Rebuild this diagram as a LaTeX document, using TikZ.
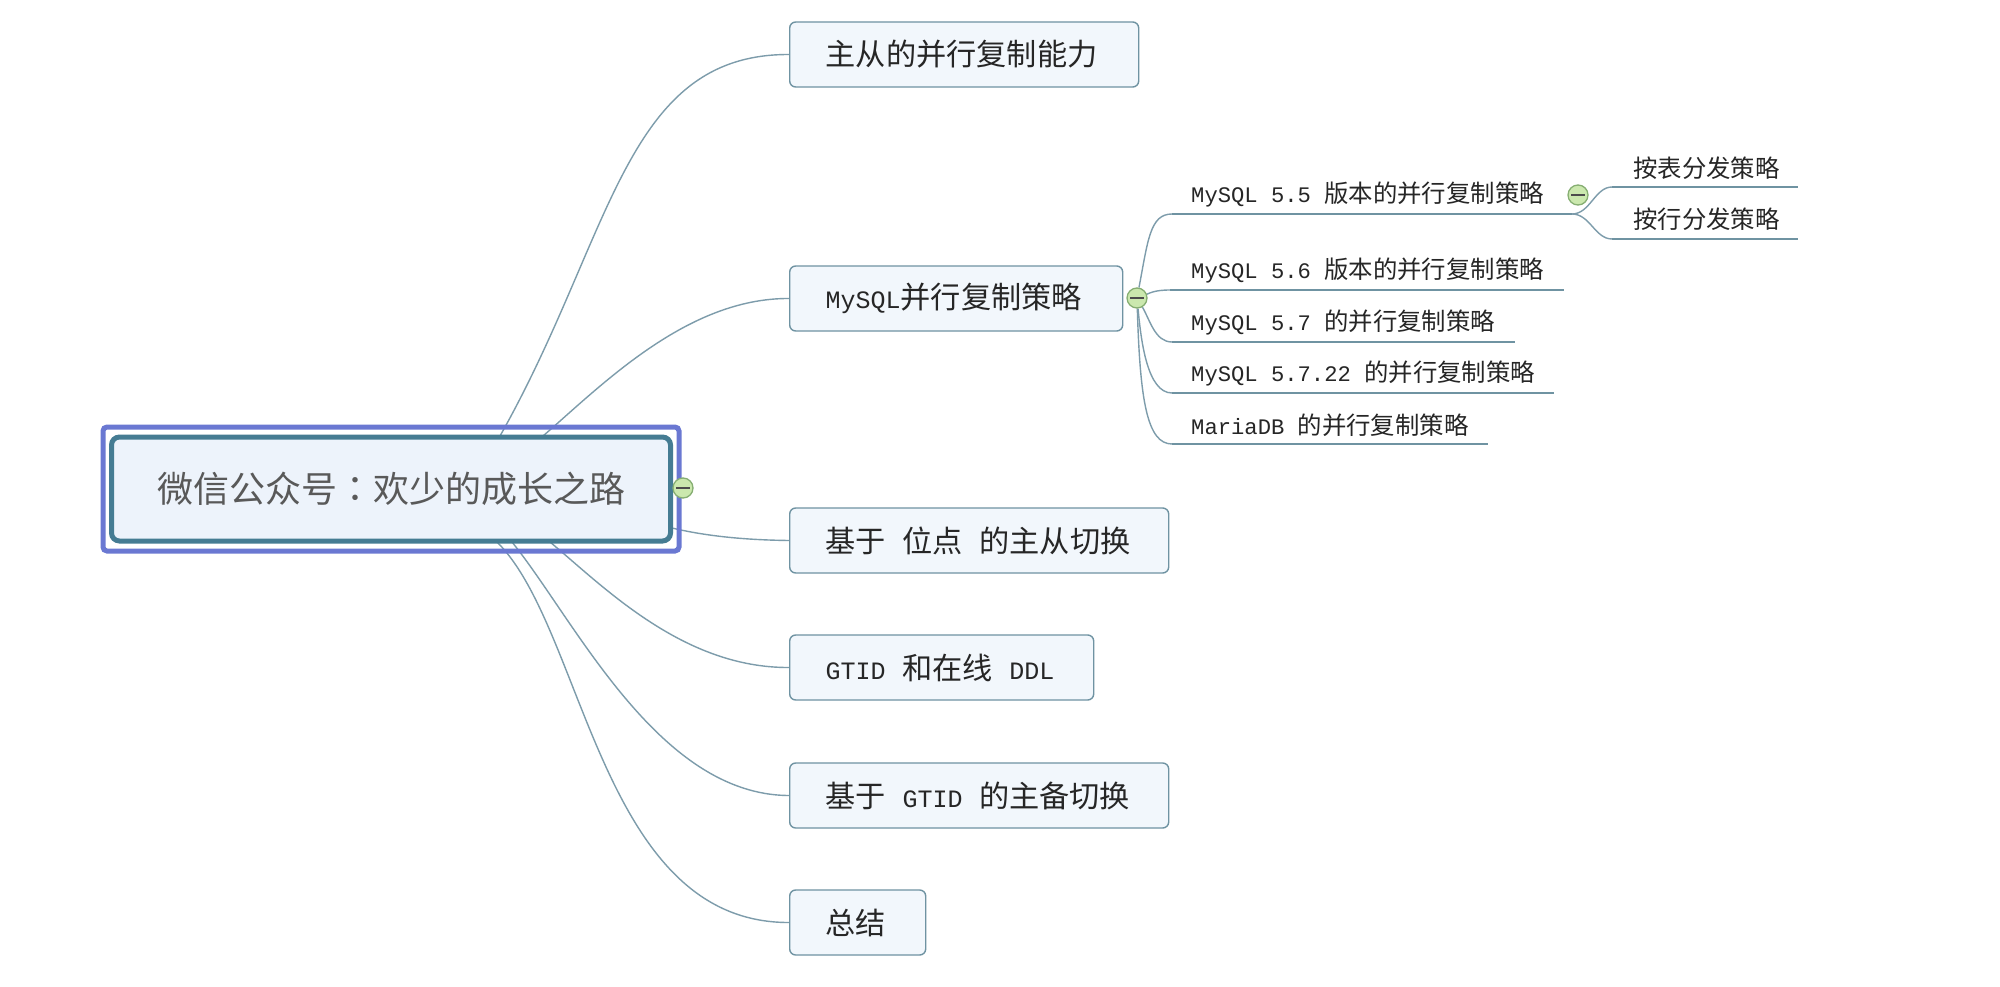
\documentclass[tikz,border=0pt]{standalone}
\usepackage{fontspec}
\setmainfont{Noto Sans CJK SC}
\newfontfamily\cjktc{Noto Sans CJK TC}
\newfontfamily\lat[Scale=0.828]{Liberation Mono}
\newfontfamily\latsub[Scale=0.909]{Liberation Mono}
\newcommand{\gapb}{\hspace{16.5pt}}
\usetikzlibrary{calc}
\pgfdeclarelayer{paper}
\pgfdeclarelayer{edges}
\pgfsetlayers{paper,edges,main}
\definecolor{linec}{HTML}{7D9CAB}
\definecolor{boxline}{HTML}{6F93A2}
\definecolor{boxfill}{HTML}{F2F7FC}
\definecolor{rootline}{HTML}{457C93}
\definecolor{frameline}{HTML}{6A78D2}
\definecolor{rootfill}{HTML}{EDF3FB}
\definecolor{togfill}{HTML}{CBE8AE}
\definecolor{togline}{HTML}{86AE72}
\definecolor{inktxt}{HTML}{262626}
\tikzset{
  x=1pt,y=-1pt,
  bigbox/.style={draw=boxline,line width=1.4pt,fill=boxfill,rounded corners=6pt,anchor=west,
    inner xsep=36pt,inner ysep=0pt,minimum height=65pt,align=left,text width=#1,text=inktxt,
    font=\fontsize{30.2}{34}\selectfont},
  subtxt/.style={anchor=west,inner sep=0pt,text=inktxt,font=\fontsize{24.4}{28}\selectfont},
  edgeline/.style={draw=linec,line width=1.4pt},
  under/.style={draw=boxline,line width=1.5pt},
  toggle/.style={circle,draw=togline,line width=1.3pt,fill=togfill,minimum size=20pt,inner sep=0pt},
  minus/.style={draw=black!70,line width=1.5pt}
}
\begin{document}
\begin{tikzpicture}
\begin{pgfonlayer}{paper}
\fill[white] (0,0) rectangle (2000,987);
\end{pgfonlayer}
\useasboundingbox (0,0) rectangle (2000,987);
% root
\node[draw=frameline,line width=5pt,rounded corners=4pt,minimum width=576pt,minimum height=124pt,inner sep=0pt] (frame) at (391,489) {};
\node[draw=rootline,line width=5pt,fill=rootfill,rounded corners=8pt,minimum width=559pt,minimum height=104pt,inner sep=0pt,text=black!65,font=\fontsize{36}{40}\selectfont] (root) at (391,489) {微信公众号{\cjktc ：}欢少的成长之路};
\node[toggle] (troot) at (683,488) {};
% first level
\node[bigbox=277pt] (a) at (789,54.5) {主从的并行复制能力};
\node[bigbox=261pt] (b) at (789,298.5) {{\lat MySQL}并行复制策略};
\node[bigbox=307pt] (c) at (789,540.5) {基于\gapb 位点\gapb 的主从切换};
\node[bigbox=232pt] (d) at (789,667.5) {{\lat GTID}\gapb 和在线\gapb{\lat DDL}};
\node[bigbox=307pt] (e) at (789,795.5) {基于\gapb{\lat GTID}\gapb 的主备切换};
\node[bigbox=64pt] (f) at (789,922.5) {总结};
\node[toggle] (tb) at (1137,298) {};
% second level
\node[subtxt] (s1) at (1191,195) {{\latsub MySQL 5.5 }版本的并行复制策略};
\node[subtxt] (s2) at (1191,271) {{\latsub MySQL 5.6 }版本的并行复制策略};
\node[subtxt] (s3) at (1191,323) {{\latsub MySQL 5.7 }的并行复制策略};
\node[subtxt] (s4) at (1191,374) {{\latsub MySQL 5.7.22 }的并行复制策略};
\node[subtxt] (s5) at (1191,425) {{\latsub MariaDB }的并行复制策略};
\node[toggle] (ts) at (1578,195) {};
\node[subtxt] (u1) at (1633,168) {按表分发策略};
\node[subtxt] (u2) at (1633,219) {按行分发策略};
\coordinate (s1a) at (1172,214); \coordinate (s1b) at (1572,214);
\coordinate (s2a) at (1170,290); \coordinate (s2b) at (1564,290);
\coordinate (s3a) at (1172,342); \coordinate (s3b) at (1515,342);
\coordinate (s4a) at (1172,393); \coordinate (s4b) at (1554,393);
\coordinate (s5a) at (1172,444); \coordinate (s5b) at (1488,444);
\coordinate (u1a) at (1612,187); \coordinate (u1b) at (1798,187);
\coordinate (u2a) at (1612,239); \coordinate (u2b) at (1798,239);
\coordinate (r1) at (500,436); \coordinate (r2) at (543,436);
\coordinate (r3) at (672,528);
\coordinate (r4) at (550,542); \coordinate (r5) at (512,542); \coordinate (r6) at (497,542);
\begin{pgfonlayer}{edges}
\draw[edgeline] (r1) .. controls (613,236) and (624,54) .. (a.west);
\draw[edgeline] (r2) .. controls (602,385) and (687,298) .. (b.west);
\draw[edgeline] (r3) .. controls (710,537) and (750,540) .. (c.west);
\draw[edgeline] (r4) .. controls (604,587) and (683,668) .. (d.west);
\draw[edgeline] (r5) .. controls (575,620) and (658,795) .. (e.west);
\draw[edgeline] (r6) .. controls (585,629) and (600,923) .. (f.west);
\draw[edgeline] (tb) .. controls (1148,240) and (1150,214) .. (s1a);
\draw[edgeline] (tb) .. controls (1150,293) and (1155,290) .. (s2a);
\draw[edgeline] (tb) .. controls (1150,320) and (1155,342) .. (s3a);
\draw[edgeline] (tb) .. controls (1141,340) and (1147,393) .. (s4a);
\draw[edgeline] (tb) .. controls (1140,400) and (1147,444) .. (s5a);
\draw[under] (s1a) -- (s1b);
\draw[under] (s2a) -- (s2b);
\draw[under] (s3a) -- (s3b);
\draw[under] (s4a) -- (s4b);
\draw[under] (s5a) -- (s5b);
\draw[edgeline] (s1b) .. controls (1590,214) and (1595,187) .. (u1a);
\draw[edgeline] (s1b) .. controls (1590,214) and (1595,239) .. (u2a);
\draw[under] (u1a) -- (u1b);
\draw[under] (u2a) -- (u2b);
\end{pgfonlayer}
\draw[minus] ($(troot.west)+(4,0)$) -- ($(troot.east)+(-4,0)$);
\draw[minus] ($(tb.west)+(4,0)$) -- ($(tb.east)+(-4,0)$);
\draw[minus] ($(ts.west)+(4,0)$) -- ($(ts.east)+(-4,0)$);
\end{tikzpicture}
\end{document}
